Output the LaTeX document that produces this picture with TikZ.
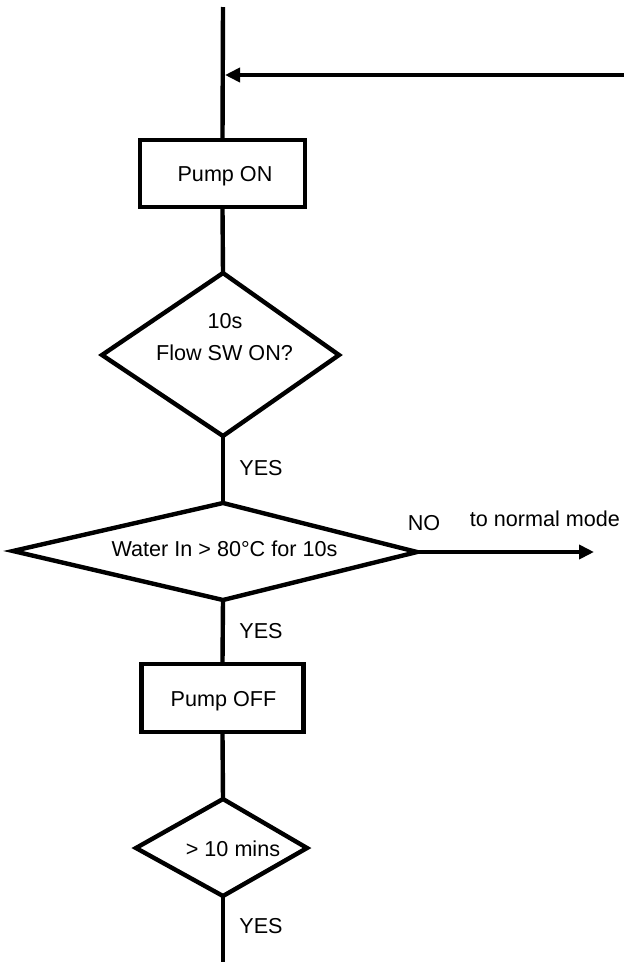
\documentclass[tikz,border=0pt]{standalone}
\usepackage{fontspec}
\setmainfont{Liberation Sans}
\usetikzlibrary{arrows.meta}
\begin{document}
\begin{tikzpicture}[x=1pt,y=1pt,
  flow/.style={line width=4.4pt, line join=miter},
  boxnode/.style={draw, line width=4.4pt, rectangle, inner sep=0pt},
  lbl/.style={anchor=base, inner sep=0pt, font=\fontsize{21.6}{26}\selectfont},
  arr/.style={line width=4pt, -{Triangle[length=15pt,width=14pt]}}]
\useasboundingbox (0,0) rectangle (624,-962);

% boxes
\node[boxnode, minimum width=165pt, minimum height=67pt] (pumpon) at (222.5,-173.5) {};
\node[boxnode, minimum width=162pt, minimum height=68pt] (pumpoff) at (222.5,-698) {};
\node[lbl] (tpumpon) at (225,-181.5) {Pump ON};
\node[lbl] (tpumpoff) at (223.5,-706) {Pump OFF};

% diamond 1
\coordinate (d1t) at (223,-273);
\coordinate (d1r) at (339,-355);
\coordinate (d1b) at (223,-436);
\coordinate (d1l) at (102,-355);
\draw[flow] (d1t) -- (d1r) -- (d1b) -- (d1l) -- cycle;
\node[lbl] (t10s) at (225,-328) {10s};
\node[lbl] (tflow) at (224.5,-360) {Flow SW ON?};

% diamond 2
\coordinate (d2t) at (223,-503);
\coordinate (d2r) at (417,-552);
\coordinate (d2b) at (223,-600);
\coordinate (d2l) at (13,-551);
\draw[flow] (d2t) -- (d2r) -- (d2b) -- (d2l) -- cycle;
\node[lbl] (twater) at (224.5,-556) {Water In > 80°C for 10s};

% diamond 3
\coordinate (d3t) at (223,-799);
\coordinate (d3r) at (307,-848);
\coordinate (d3b) at (223,-896);
\coordinate (d3l) at (136,-848);
\draw[flow] (d3t) -- (d3r) -- (d3b) -- (d3l) -- cycle;
\node[lbl] (tmins) at (233,-856.5) {> 10 mins};

% main vertical connectors
\coordinate (top) at (223,-7);
\coordinate (bot) at (223,-962);
\draw[flow] (top) -- (pumpon.north);
\draw[flow] (pumpon.south) -- (d1t);
\draw[flow] (d1b) -- (d2t);
\draw[flow] (d2b) -- (pumpoff.north);
\draw[flow] (pumpoff.south) -- (d3t);
\draw[flow] (d3b) -- (bot);

% feedback arrow
\coordinate (fbstart) at (630,-75);
\coordinate (fbend) at (225,-75);
\draw[arr] (fbstart) -- (fbend);

% NO arrow
\coordinate (noend) at (594,-552);
\draw[arr] (d2r) -- (noend);

% labels
\node[lbl] (yes1) at (261,-475) {YES};
\node[lbl] (yes2) at (261,-638) {YES};
\node[lbl] (yes3) at (261,-933) {YES};
\node[lbl] (no) at (424,-530.5) {NO};
\node[lbl] (tonormal) at (545,-526) {to normal mode};
\end{tikzpicture}
\end{document}
